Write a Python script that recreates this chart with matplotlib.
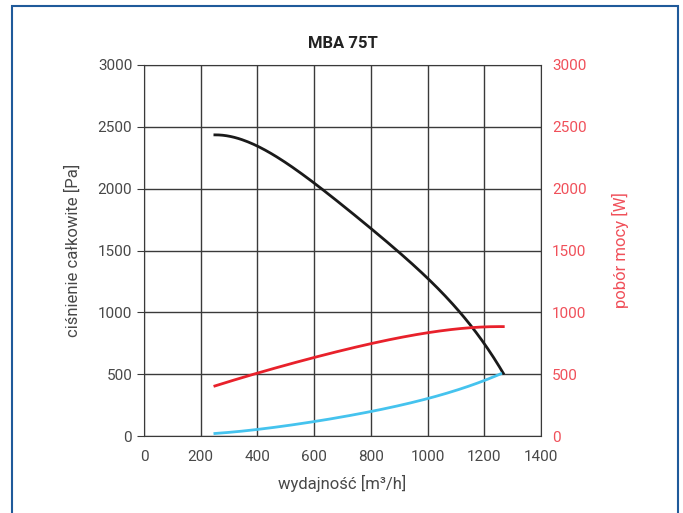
import numpy as np
import matplotlib.pyplot as plt
from matplotlib.patches import Rectangle

plt.rcParams['font.family'] = ['Roboto', 'DejaVu Sans']

# airflow [m3/h]
flow = [250, 400, 600, 800, 1000, 1200, 1267]
# total pressure [Pa]
pressure = [2435, 2345, 2040, 1690, 1262, 760, 500]
# power consumption [W]
power = [405, 507, 637, 745, 835, 883, 884]
# second curve on the power axis
flow_b = [250, 400, 600, 800, 1000, 1200, 1258]
power_b = [20, 54, 116, 197, 305, 445, 505]

x_ticks = [0, 200, 400, 600, 800, 1000, 1200, 1400]
y_ticks = [0, 500, 1000, 1500, 2000, 2500, 3000]

grey = '#3a3a3a'
txt = '#484848'
red = '#e8212b'
red_lbl = '#f0505a'


def smooth(x, y, deg=4, n=150):
    # polynomial smoothing through the read points
    c = np.polyfit(x, y, deg)
    xs = np.linspace(x[0], x[-1], n)
    return xs, np.polyval(c, xs)


fig = plt.figure(figsize=(6.83, 5.13), dpi=100)
fig.patches.append(Rectangle((12 / 683, -0.05), 666 / 683, 1.05 - 6 / 513,
                             transform=fig.transFigure, fill=False,
                             edgecolor='#1f5a9a', linewidth=1.5))

ax = fig.add_axes([144 / 683, 1 - 436 / 513, 397 / 683, 371 / 513])
ax.set_xlim(0, 1400)
ax.set_ylim(0, 3000)
ax.set_xticks(x_ticks)
ax.set_yticks(y_ticks)
ax.grid(True, color=grey, linewidth=1.0)
ax.set_axisbelow(True)
for s in ax.spines.values():
    s.set_color(grey)
ax.tick_params(colors=grey, labelcolor=txt, labelsize=11, length=5, direction='out')
ax.tick_params(axis='x', length=0, pad=10)

ax2 = ax.twinx()
ax2.set_ylim(0, 3000)
ax2.set_yticks(y_ticks)
ax2.tick_params(axis='y', colors=red_lbl, labelsize=11, length=0, pad=8)
for s in ax2.spines.values():
    s.set_visible(False)

xs, ys = smooth(flow, pressure)
ax.plot(xs, ys, color='#1a1a1a', linewidth=2)
xs, ys = smooth(flow, power)
ax2.plot(xs, ys, color=red, linewidth=2)
xs, ys = smooth(flow_b, power_b)
ax2.plot(xs, ys, color='#45c3ee', linewidth=2)

ax.set_title('MBA 75T', fontsize=12, fontweight='bold', color='#222222', pad=12)
ax.set_xlabel('wydajność [m³/h]', fontsize=12, color=txt, labelpad=8)
ax.set_ylabel('ciśnienie całkowite [Pa]', fontsize=12, color=txt, labelpad=12)
ax2.set_ylabel('pobór mocy [W]', fontsize=12, color=red_lbl, labelpad=18)

fig.savefig('out.png', dpi=100)
